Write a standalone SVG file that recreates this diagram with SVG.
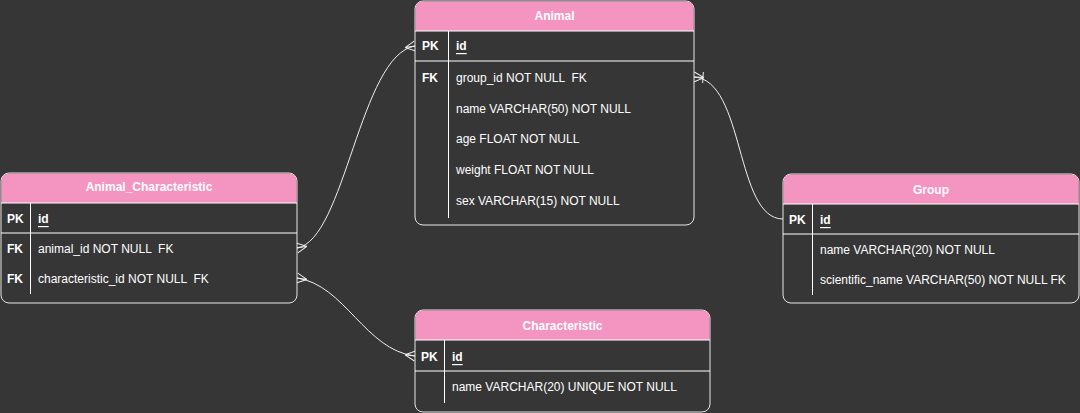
<svg xmlns="http://www.w3.org/2000/svg" width="1080" height="413" viewBox="0 0 1080 413">
<style>
.box{fill:#363636;stroke:#e6e6e6;stroke-width:1}
.hdr{fill:#F494C1;stroke:none}
.ln{stroke:#ffffff;stroke-width:1;fill:none}
.t{font-family:"Liberation Sans",Arial,sans-serif;font-size:12px;fill:#ffffff;dominant-baseline:central;white-space:pre}
.b{font-weight:bold}
.title{font-family:"Liberation Sans",Arial,sans-serif;font-size:12px;font-weight:bold;fill:#ffffff;text-anchor:middle;dominant-baseline:central}
.u{text-decoration:underline}
.edge{stroke:#f0f0f0;stroke-width:1;fill:none}
</style>
<defs>
<marker id="many" markerUnits="userSpaceOnUse" viewBox="0 0 22 20" refX="20" refY="10" markerWidth="22" markerHeight="20" orient="auto-start-reverse" overflow="visible">
<path d="M10,10 L20,5 M10,10 L20,10 M10,10 L20,15" stroke="#f0f0f0" stroke-width="1" fill="none"/>
</marker>
<marker id="oneMany" markerUnits="userSpaceOnUse" viewBox="0 0 22 20" refX="20" refY="10" markerWidth="22" markerHeight="20" orient="auto-start-reverse" overflow="visible">
<path d="M10,10 L20,5 M10,10 L20,10 M10,10 L20,15 M11,4.5 L11,15.5" stroke="#f0f0f0" stroke-width="1" fill="none"/>
</marker>
</defs>
<rect x="0" y="0" width="1080" height="413" fill="#363636"/>

<g id="connectors">
<path class="edge" d="M297,248 C345,240 360,55 415,46" marker-start="url(#many)" marker-end="url(#many)"/>
<path class="edge" d="M297,278 C345,285 365,350 415,356" marker-start="url(#many)" marker-end="url(#many)"/>
<path class="edge" d="M694,77 C745,80 735,219 783,219" marker-start="url(#oneMany)"/>
</g>

<g id="Animal">
<rect class="box" x="415" y="1" width="279" height="224" rx="8"/>
<path class="hdr" d="M415.5,31 V9 Q415.5,1.5 423,1.5 H686 Q693.5,1.5 693.5,9 V31 Z"/>
<line class="ln" x1="415" y1="31" x2="694" y2="31"/>
<line class="ln" x1="415" y1="61" x2="694" y2="61"/>
<line class="ln" x1="448.5" y1="31" x2="448.5" y2="218"/>
<text class="title" x="554.5" y="16">Animal</text>
<text class="t b" x="422" y="46">PK</text>
<text class="t b u" x="456" y="46">id</text>
<text class="t b" x="422" y="78">FK</text>
<text class="t" x="456" y="78" xml:space="preserve">group_id NOT NULL  FK</text>
<text class="t" x="456" y="109">name VARCHAR(50) NOT NULL</text>
<text class="t" x="456" y="139">age FLOAT NOT NULL</text>
<text class="t" x="456" y="170">weight FLOAT NOT NULL</text>
<text class="t" x="456" y="201">sex VARCHAR(15) NOT NULL</text>
</g>

<g id="Animal_Characteristic">
<rect class="box" x="1" y="173" width="296" height="130" rx="8"/>
<path class="hdr" d="M1.5,203 V181 Q1.5,173.5 9,173.5 H289 Q296.5,173.5 296.5,181 V203 Z"/>
<line class="ln" x1="1" y1="203" x2="297" y2="203"/>
<line class="ln" x1="1" y1="233" x2="297" y2="233"/>
<line class="ln" x1="30.5" y1="203" x2="30.5" y2="294"/>
<text class="title" x="149" y="187">Animal_Characteristic</text>
<text class="t b" x="7" y="219">PK</text>
<text class="t b u" x="38" y="219">id</text>
<text class="t b" x="7" y="249">FK</text>
<text class="t" x="38" y="249" xml:space="preserve">animal_id NOT NULL  FK</text>
<text class="t b" x="7" y="279">FK</text>
<text class="t" x="38" y="279" xml:space="preserve">characteristic_id NOT NULL  FK</text>
</g>

<g id="Characteristic">
<rect class="box" x="415" y="310" width="295" height="102" rx="8"/>
<path class="hdr" d="M415.5,340 V318 Q415.5,310.5 423,310.5 H702 Q709.5,310.5 709.5,318 V340 Z"/>
<line class="ln" x1="415" y1="340" x2="710" y2="340"/>
<line class="ln" x1="415" y1="371" x2="710" y2="371"/>
<line class="ln" x1="444.5" y1="340" x2="444.5" y2="403"/>
<text class="title" x="562.5" y="326">Characteristic</text>
<text class="t b" x="421" y="357">PK</text>
<text class="t b u" x="452" y="357">id</text>
<text class="t" x="452" y="387">name VARCHAR(20) UNIQUE NOT NULL</text>
</g>

<g id="Group">
<rect class="box" x="783" y="174" width="296" height="129" rx="8"/>
<path class="hdr" d="M783.5,204 V182 Q783.5,174.5 791,174.5 H1071 Q1078.5,174.5 1078.5,182 V204 Z"/>
<line class="ln" x1="783" y1="204" x2="1079" y2="204"/>
<line class="ln" x1="783" y1="234" x2="1079" y2="234"/>
<line class="ln" x1="812.5" y1="204" x2="812.5" y2="295"/>
<text class="title" x="931" y="190">Group</text>
<text class="t b" x="789" y="220">PK</text>
<text class="t b u" x="820" y="220">id</text>
<text class="t" x="820" y="250">name VARCHAR(20) NOT NULL</text>
<text class="t" x="820" y="280">scientific_name VARCHAR(50) NOT NULL FK</text>
</g>
</svg>
